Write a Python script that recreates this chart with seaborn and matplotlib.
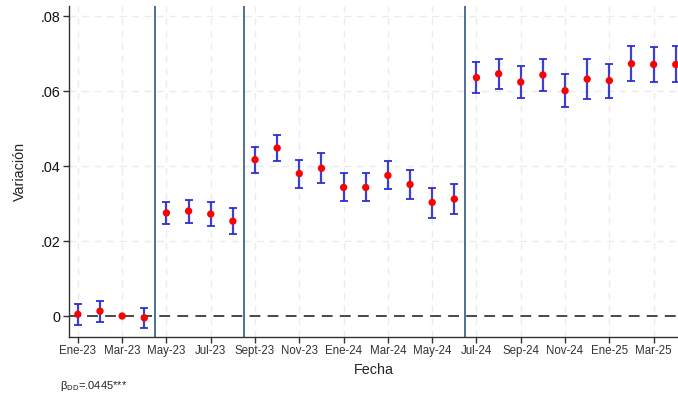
import numpy as np
import pandas as pd
import matplotlib
matplotlib.use("Agg")
import matplotlib.pyplot as plt
import seaborn as sns

months = ["Ene-23", "Feb-23", "Mar-23", "Abr-23", "May-23", "Jun-23", "Jul-23", "Ago-23",
          "Sep-23", "Oct-23", "Nov-23", "Dic-23", "Ene-24", "Feb-24", "Mar-24", "Abr-24",
          "May-24", "Jun-24", "Jul-24", "Ago-24", "Sep-24", "Oct-24", "Nov-24", "Dic-24",
          "Ene-25", "Feb-25", "Mar-25", "Abr-25"]
coef = [0.00045, 0.0013, 0.0, -0.0005,
        0.0275, 0.0280, 0.0272, 0.0253,
        0.0417, 0.0448, 0.0380, 0.0394, 0.0343, 0.0343, 0.0375, 0.0351, 0.0303, 0.0312,
        0.0636, 0.0646, 0.0624, 0.0643, 0.0601, 0.0632, 0.0628, 0.0673, 0.0671, 0.0671]
ci_low = [-0.0024, -0.0015, 0.0, -0.0032,
          0.0246, 0.0249, 0.0241, 0.0218,
          0.0381, 0.0413, 0.0342, 0.0356, 0.0306, 0.0306, 0.0338, 0.0311, 0.0262, 0.0272,
          0.0596, 0.0605, 0.0582, 0.0600, 0.0558, 0.0580, 0.0582, 0.0626, 0.0624, 0.0624]
ci_high = [0.0032, 0.0041, 0.0, 0.0022,
           0.0305, 0.0310, 0.0305, 0.0287,
           0.0451, 0.0484, 0.0417, 0.0434, 0.0382, 0.0382, 0.0413, 0.0389, 0.0342, 0.0353,
           0.0678, 0.0686, 0.0668, 0.0686, 0.0645, 0.0686, 0.0673, 0.0721, 0.0718, 0.0720]
xtick_labels = ["Ene-23", "Mar-23", "May-23", "Jul-23", "Sept-23", "Nov-23", "Ene-24",
                "Mar-24", "May-24", "Jul-24", "Sep-24", "Nov-24", "Ene-25", "Mar-25"]
break_positions = [3.5, 7.5, 17.5]
ytick_vals = [0, 0.02, 0.04, 0.06, 0.08]
ytick_labels = ["0", ".02", ".04", ".06", ".08"]

df = pd.DataFrame({"t": np.arange(len(months)), "coef": coef,
                   "lo": ci_low, "hi": ci_high})

sns.set_style("white")
plt.rcParams["font.family"] = ["Liberation Sans", "DejaVu Sans"]
plt.rcParams["mathtext.fontset"] = "custom"
plt.rcParams["mathtext.rm"] = "Liberation Sans"

fig = plt.figure(figsize=(6.78, 3.98), dpi=100)
ax = fig.add_axes([69/678, 61/398, 609/678, 331/398])

ax.set_xlim(-0.4, 27.1)
ax.set_ylim(-0.0056, 0.0827)

# grid
for xv in range(0, 27, 2):
    ax.axvline(xv, color="#ebebeb", lw=1.0, ls=(0, (5, 4)), zorder=0)
for yv in ytick_vals[1:]:
    ax.axhline(yv, color="#ebebeb", lw=1.0, ls=(0, (5, 4)), zorder=0)

ax.axhline(0, color="#3a3a3a", lw=1.3, ls=(0, (6, 4)), zorder=1)
for b in break_positions:
    ax.axvline(b, color="#41658f", lw=1.3, zorder=2)

mask = df["hi"] != df["lo"]
ax.errorbar(df.loc[mask, "t"], df.loc[mask, "coef"],
            yerr=[df.loc[mask, "coef"] - df.loc[mask, "lo"], df.loc[mask, "hi"] - df.loc[mask, "coef"]],
            fmt="none", ecolor="#2a2ad0", elinewidth=1.6, capsize=2.6, capthick=1.4, zorder=3, alpha=0.9)
sns.scatterplot(data=df, x="t", y="coef", ax=ax, color="red", s=28, edgecolor="none",
                zorder=4, legend=False)

ax.set_xticks(range(0, 27, 2))
ax.set_xticklabels(xtick_labels, fontsize=8.3, color="#333333")
ax.set_yticks(ytick_vals)
ax.set_yticklabels(ytick_labels, fontsize=10.4, color="#111111")
ax.tick_params(axis="both", direction="out", length=4, width=1, color="#333333", pad=2)
ax.tick_params(axis="x", bottom=True)
ax.tick_params(axis="y", left=True)

for s in ["top", "right"]:
    ax.spines[s].set_visible(False)
for s in ["left", "bottom"]:
    ax.spines[s].set_color("#333333")
    ax.spines[s].set_linewidth(1.0)

ax.set_xlabel("Fecha", fontsize=10.4, labelpad=4)
ax.set_ylabel("Variación", fontsize=10.4, labelpad=10)

fig.text(60/678, 1 - 386/398, "β$_{\\mathrm{DD}}$=.0445***", fontsize=8, va="center",
         ha="left", color="#222222")

fig.savefig("out.png", dpi=100)
